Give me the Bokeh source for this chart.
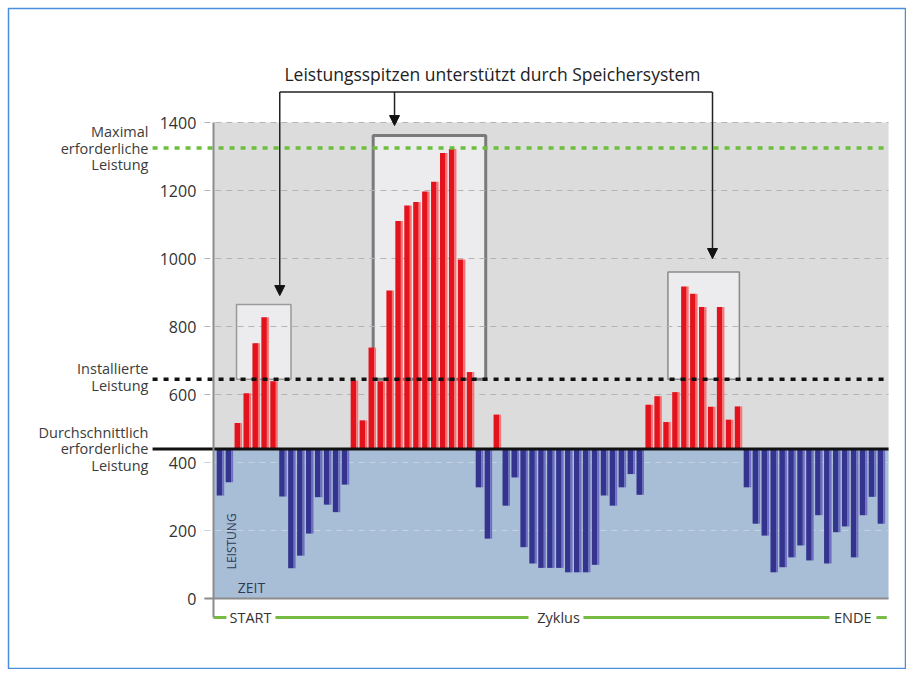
from bokeh.plotting import figure
from bokeh.models import LinearAxis, FixedTicker, Range1d, Arrow, NormalHead, ColumnDataSource
from bokeh.transform import dodge
from bokeh.embed import file_html
from bokeh.resources import INLINE
from bokeh.core.properties import value
import math

# ---------------- data ----------------
zeit = list(range(1, 76))
leistung = [303, 342, 516, 604, 751, 827, 639, 300, 89, 126,
            191, 298, 276, 254, 335, 641, 524, 738, 639, 906,
            1110, 1156, 1166, 1197, 1226, 1310, 1322, 997, 666, 327,
            176, 541, 273, 356, 151, 103, 90, 90, 90, 77,
            77, 77, 99, 303, 273, 327, 366, 305, 570, 595,
            519, 607, 918, 896, 857, 564, 857, 526, 565, 327,
            220, 185, 77, 92, 121, 156, 112, 245, 103, 195,
            212, 121, 245, 299, 220]
durchschnitt = 440
installiert = 645
maximal = 1325
y_ticks = [0, 200, 400, 600, 800, 1000, 1200, 1400]
y_top = 1400

titel = "Leistungsspitzen unterstützt durch Speichersystem"
label_max = ["Maximal", "erforderliche", "Leistung"]
label_inst = ["Installierte", "Leistung"]
label_avg = ["Durchschnittlich", "erforderliche", "Leistung"]
x_labels = ["START", "Zyklus", "ENDE"]

# peak boxes (annotation regions)
box_left = [2.8, 18.1, 51.1]
box_right = [8.9, 30.7, 59.1]
box_top = [865, 1362, 960]
arrow_x = [7.64, 20.49, 56.09]
arrow_tip = [891, 1391, 1000]

FONT = "Open Sans"

# ---------------- figure ----------------
p = figure(width=906, height=669,
           x_range=Range1d(-22.73, 77.81), y_range=Range1d(-208.8, 1735.3),
           output_backend="svg", toolbar_location=None,
           x_axis_location=None, y_axis_location=None,
           min_border_left=8, min_border_top=8, min_border_right=0, min_border_bottom=0,
           background_fill_color="white", border_fill_color="white",
           outline_line_color="#4a8fdc", outline_line_width=1.5)
p.grid.visible = False

x_lo, x_hi = 0.2, 75.8

# backgrounds
p.quad(left=[x_lo], right=[x_hi], bottom=[durchschnitt], top=[y_top],
       fill_color="#dcdcdd", line_color=None)
p.quad(left=[x_lo], right=[x_hi], bottom=[0], top=[durchschnitt],
       fill_color="#a8bed7", line_color=None)

# peak boxes
p.quad(left=box_left, right=box_right, bottom=[installiert] * 3, top=box_top,
       fill_color="#ececee", line_color=["#9a9a9a", "#7a7a7a", "#8a8a8a"],
       line_width=[1.5, 3, 1.5])

# grid (dashed)
upper = [t for t in y_ticks if t > durchschnitt]
lower = [t for t in y_ticks if 0 < t < durchschnitt]
p.segment(x0=[-0.8] * len(upper), x1=[x_hi] * len(upper), y0=upper, y1=upper,
          line_color="#b4b4b4", line_width=1, line_dash="6 5")
p.segment(x0=[-0.8] * len(lower), x1=[x_hi] * len(lower), y0=lower, y1=lower,
          line_color="#c4d2e2", line_width=1, line_dash="6 5")

# bars
red = [(x, v) for x, v in zip(zeit, leistung) if v > durchschnitt]
blue = [(x, v) for x, v in zip(zeit, leistung) if v <= durchschnitt]
rsrc = ColumnDataSource(dict(x=[a for a, _ in red], top=[b for _, b in red],
                             bottom=[durchschnitt] * len(red)))
bsrc = ColumnDataSource(dict(x=[a for a, _ in blue], bottom=[b for _, b in blue],
                             top=[durchschnitt] * len(blue)))
p.vbar(x=dodge("x", -0.11, range=p.x_range), width=0.62, top="top", bottom="bottom",
       source=rsrc, fill_color="#e3121c", line_color=None)
p.vbar(x=dodge("x", 0.31, range=p.x_range), width=0.22, top="top", bottom="bottom",
       source=rsrc, fill_color="#ff7070", line_color=None)
p.vbar(x=dodge("x", -0.11, range=p.x_range), width=0.62, top="top", bottom="bottom",
       source=bsrc, fill_color="#34348f", line_color=None)
p.vbar(x=dodge("x", 0.31, range=p.x_range), width=0.22, top="top", bottom="bottom",
       source=bsrc, fill_color="#6e6ec2", line_color=None)

# level lines
line_x0 = -6.6
p.segment(x0=[line_x0], x1=[x_hi], y0=[maximal], y1=[maximal],
          line_color="#6cbf3c", line_width=3.5, line_dash="5 6")
p.segment(x0=[line_x0], x1=[x_hi], y0=[installiert], y1=[installiert],
          line_color="#111111", line_width=3.5, line_dash="5 6")
p.segment(x0=[line_x0], x1=[x_hi], y0=[durchschnitt], y1=[durchschnitt],
          line_color="#111111", line_width=3)

# x baseline
p.segment(x0=[-0.8], x1=[x_hi], y0=[0], y1=[0], line_color="#8c8c8c", line_width=2)

# y axis inside the frame
yax = LinearAxis(fixed_location=x_lo, ticker=FixedTicker(ticks=y_ticks),
                 bounds=(-55, y_top), axis_line_color="#8c8c8c", axis_line_width=2,
                 major_tick_line_color=None, minor_tick_line_color=None,
                 major_tick_out=0, major_tick_in=0, major_label_standoff=17,
                 major_label_text_font=FONT, major_label_text_font_size="16px",
                 major_label_text_color="#333333")
p.add_layout(yax, "left")

# left side labels
def side_label(lines, center):
    n = len(lines)
    ys = [center + 49 * ((n - 1) / 2 - i) for i in range(n)]
    p.text(x=[-7.06] * n, y=ys, text=lines, text_font=value(FONT),
           text_font_size="14.5px", text_align="right", text_baseline="middle",
           text_color="#3c3c3c")

side_label(label_max, maximal)
side_label(label_inst, installiert + 6)
side_label(label_avg, durchschnitt)

# title + bracket + arrows
bracket_y = 1490
p.text(x=[31.46], y=[1542], text=[titel], text_font=value(FONT),
       text_font_size="17.5px", text_align="center", text_baseline="middle",
       text_color="#222222")
p.segment(x0=[arrow_x[0]], x1=[arrow_x[2]], y0=[bracket_y], y1=[bracket_y],
          line_color="#222222", line_width=1.5)
asrc = ColumnDataSource(dict(xs=arrow_x, ys=[bracket_y] * 3, xe=arrow_x, ye=arrow_tip))
p.add_layout(Arrow(end=NormalHead(size=10, fill_color="#111111", line_color="#111111"),
                   x_start="xs", y_start="ys", x_end="xe", y_end="ye", source=asrc,
                   line_color="#222222", line_width=1.5))

# inner axis captions
p.text(x=[2.24], y=[168], text=["LEISTUNG"], angle=math.pi / 2, text_font=value(FONT),
       text_font_size="12px", text_align="center", text_baseline="middle",
       text_color="#2e3a55")
p.text(x=[4.48], y=[32], text=["ZEIT"], text_font=value(FONT),
       text_font_size="14px", text_align="center", text_baseline="middle",
       text_color="#2e3a55")

# bottom cycle row
row_y = -56
seg_x0 = [0.22, 7.16, 41.64, 74.44]
seg_x1 = [1.67, 35.49, 69.18, 75.6]
p.segment(x0=seg_x0, x1=seg_x1, y0=[row_y] * 4, y1=[row_y] * 4,
          line_color="#76bc43", line_width=3)
p.text(x=[4.36, 38.85, 71.8], y=[row_y] * 3, text=x_labels, text_font=value(FONT),
       text_font_size="14.5px", text_align="center", text_baseline="middle",
       text_color="#333333")

open("out.html", "w").write(file_html(p, INLINE))
